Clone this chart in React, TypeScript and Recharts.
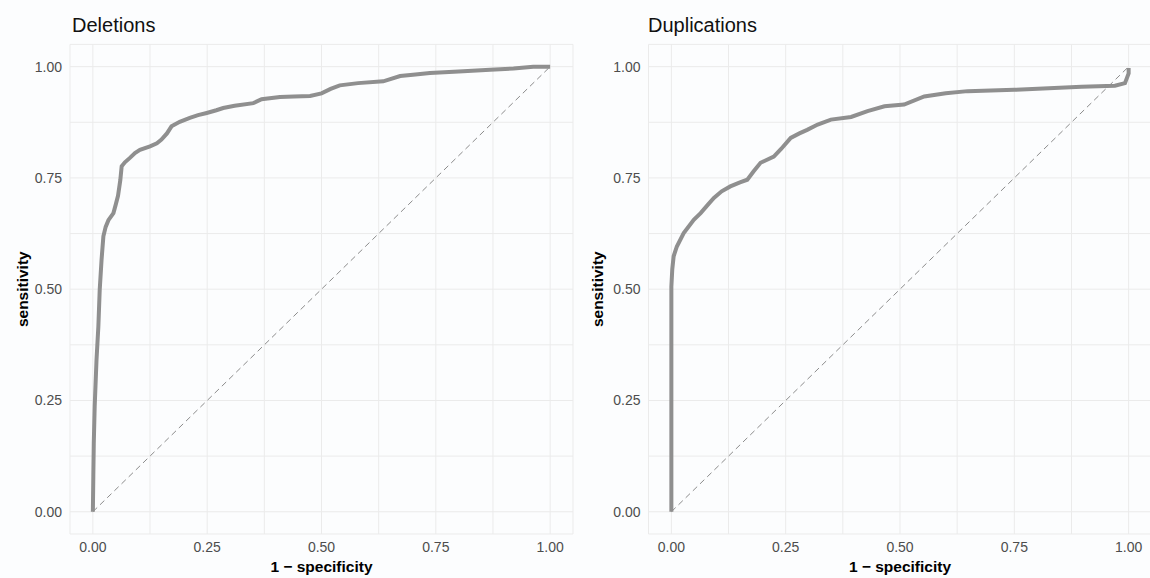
import { LineChart, Line, XAxis, YAxis, CartesianGrid, ReferenceLine } from "recharts";

// grid positions (major + minor) and labelled ticks
const GRID_TICKS = [0, 0.125, 0.25, 0.375, 0.5, 0.625, 0.75, 0.875, 1];
const LABELLED = [0, 0.25, 0.5, 0.75, 1];

// Deletions ROC curve
const delFpr = [
  0, 0.001, 0.002, 0.004, 0.008, 0.012, 0.015, 0.019, 0.023, 0.028, 0.034, 0.045, 0.05, 0.055, 0.06, 0.063,
  0.07, 0.081, 0.092, 0.103, 0.125, 0.14, 0.15, 0.162, 0.172, 0.19, 0.212, 0.23, 0.249, 0.27, 0.285, 0.31,
  0.351, 0.369, 0.409, 0.44, 0.475, 0.5, 0.52, 0.54, 0.58, 0.635, 0.672, 0.7, 0.737, 0.8, 0.869, 0.92, 0.963, 1,
];
const delTpr = [
  0, 0.08, 0.154, 0.237, 0.342, 0.416, 0.499, 0.566, 0.619, 0.64, 0.655, 0.671, 0.69, 0.71, 0.745, 0.776,
  0.785, 0.795, 0.806, 0.813, 0.821, 0.828, 0.836, 0.85, 0.866, 0.876, 0.885, 0.891, 0.896, 0.902, 0.907, 0.912,
  0.918, 0.927, 0.932, 0.933, 0.934, 0.94, 0.95, 0.958, 0.963, 0.967, 0.979, 0.982, 0.986, 0.989, 0.993, 0.996, 1, 1,
];

// Duplications ROC curve
const dupFpr = [
  0, 0, 0.002, 0.005, 0.012, 0.027, 0.049, 0.064, 0.08, 0.093, 0.11, 0.129, 0.15, 0.166, 0.18, 0.195, 0.224,
  0.24, 0.261, 0.28, 0.297, 0.32, 0.349, 0.393, 0.429, 0.466, 0.509, 0.553, 0.6, 0.648, 0.75, 0.897, 0.97,
  0.992, 1, 1,
];
const dupTpr = [
  0, 0.506, 0.545, 0.574, 0.596, 0.626, 0.656, 0.671, 0.69, 0.705, 0.72, 0.731, 0.74, 0.746, 0.765, 0.784,
  0.798, 0.815, 0.84, 0.85, 0.858, 0.87, 0.881, 0.887, 0.9, 0.911, 0.915, 0.933, 0.94, 0.945, 0.948, 0.955,
  0.957, 0.963, 0.985, 0.997,
];

const FONT = '"Liberation Sans", Arial, Helvetica, sans-serif';
const fmt = (v: number) => (LABELLED.includes(v) ? v.toFixed(2) : "");

function RocPanel({
  title,
  fpr,
  tpr,
  left,
  axisWidth,
  titleLeft,
}: {
  title: string;
  fpr: number[];
  tpr: number[];
  left: number;
  axisWidth: number;
  titleLeft: number;
}) {
  const data = fpr.map((x, i) => ({ x, y: tpr[i] }));

  return (
    <div style={{ position: "absolute", left, top: 0, width: 575, height: 578 }}>
      <div
        style={{
          position: "absolute",
          left: titleLeft,
          top: 15,
          fontSize: 20,
          lineHeight: "20px",
          color: "#111",
          fontFamily: FONT,
        }}
      >
        {title}
      </div>
      <LineChart width={575} height={578} data={data} margin={{ top: 44.4, right: 575 - axisWidth - 503, bottom: 0, left: 0 }}>
        <CartesianGrid stroke="#ebebeb" strokeWidth={1} />
        <XAxis
          dataKey="x"
          type="number"
          domain={[-0.05, 1.05]}
          ticks={GRID_TICKS}
          interval={0}
          tickFormatter={fmt}
          axisLine={false}
          tickLine={false}
          height={44}
          tick={{ fill: "#4d4d4d", fontSize: 14, fontFamily: FONT }}
          label={{
            value: "1 \u2212 specificity",
            position: "insideBottom",
            offset: 6,
            fill: "#000",
            fontSize: 15.5,
            fontWeight: "bold",
            fontFamily: FONT,
          }}
        />
        <YAxis
          type="number"
          domain={[-0.05, 1.05]}
          ticks={GRID_TICKS}
          interval={0}
          tickFormatter={fmt}
          axisLine={false}
          tickLine={false}
          width={axisWidth}
          tick={{ fill: "#4d4d4d", fontSize: 14, fontFamily: FONT }}
          label={{
            content: ({ viewBox }: any) => {
              const cx = viewBox.x + 23;
              const cy = viewBox.y + viewBox.height / 2;
              return (
                <text
                  x={cx}
                  y={cy}
                  transform={`rotate(-90, ${cx}, ${cy})`}
                  textAnchor="middle"
                  dominantBaseline="central"
                  fontSize={15.5}
                  fontWeight="bold"
                  fontFamily={FONT}
                  fill="#000"
                >
                  sensitivity
                </text>
              );
            },
          }}
        />
        <ReferenceLine
          segment={[
            { x: 0, y: 0 },
            { x: 1, y: 1 },
          ]}
          stroke="#8c8c8c"
          strokeWidth={1}
          strokeDasharray="6 4"
        />
        <Line
          type="linear"
          dataKey="y"
          stroke="#8f8f8f"
          strokeWidth={4}
          dot={false}
          isAnimationActive={false}
        />
      </LineChart>
    </div>
  );
}

export default function App() {
  return (
    <div style={{ position: "absolute", left: 0, top: 0, width: 1150, height: 578, background: "#fcfdfe" }}>
      <RocPanel title="Deletions" fpr={delFpr} tpr={delTpr} left={0} axisWidth={70} titleLeft={72} />
      <RocPanel title="Duplications" fpr={dupFpr} tpr={dupTpr} left={575} axisWidth={73.5} titleLeft={73} />
    </div>
  );
}
